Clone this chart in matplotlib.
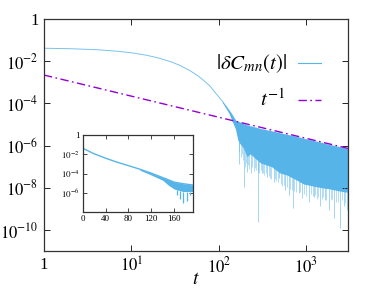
import numpy as np
import matplotlib
matplotlib.use('Agg')
import matplotlib.pyplot as plt

plt.rcParams['font.family'] = ['Liberation Serif', 'DejaVu Serif']
plt.rcParams['mathtext.fontset'] = 'stix'

# ---- data ----
# smooth decay of |dC_mn(t)| (main panel)
t_main = [1, 2, 4, 7, 10, 15, 20, 28, 36, 47, 57, 67, 80, 95, 110, 124, 140, 154]
c_main = [0.041, 0.039, 0.035, 0.0295, 0.025, 0.019, 0.0145, 9.5e-3, 6.3e-3, 3.5e-3,
          2.1e-3, 1.23e-3, 6.3e-4, 2.6e-4, 1.25e-4, 6.0e-5, 3.1e-5, 1.6e-5]

# oscillating tail: upper envelope and solid lower edge
env_t  = [110, 130, 155, 165, 175, 190, 210, 230, 260, 300, 350, 400, 500, 600, 750,
          935, 1200, 1500, 1800, 2400, 3000]
env_hi = [1.25e-4, 5.0e-5, 1.6e-5, 1.4e-5, 1.3e-5, 1.1e-5, 9.5e-6, 8.5e-6, 7.5e-6, 6.4e-6,
          5.6e-6, 5.0e-6, 4.0e-6, 3.4e-6, 2.8e-6, 2.2e-6, 1.75e-6, 1.4e-6, 1.15e-6,
          8.8e-7, 7.0e-7]
env_lo = [1.1e-4, 3.5e-5, 6.0e-6, 1.8e-6, 1.2e-6, 8.0e-7, 3.0e-7, 4.0e-7, 2.5e-7, 1.5e-7,
          1.2e-7, 1.0e-7, 5.0e-8, 4.0e-8, 2.5e-8, 1.5e-8, 1.2e-8, 1.0e-8, 9.0e-9,
          7.0e-9, 6.0e-9]

# deep single spikes
spike_t = [168, 195, 210, 235, 277, 312, 356, 423, 483, 576, 629, 706, 819, 895,
           1065, 1215, 1425, 1655, 1805, 2060, 2415, 2680, 2930]
spike_lo = [1.4e-7, 1.1e-8, 5.8e-8, 4.9e-8, 2.5e-10, 4.9e-8, 3.4e-8, 1.9e-8, 2.8e-8, 7.9e-9,
            4.6e-9, 1.1e-9, 5.5e-9, 3.2e-9, 2.2e-9, 3.8e-9, 1.3e-9, 2.6e-9, 8.9e-10,
            3.6e-10, 1.2e-10, 1.3e-9, 8.9e-10]

# shallower pale spikes
mid_t  = [172, 180, 184, 188, 200, 205, 215, 220, 242, 250, 258, 265, 282, 290, 300,
          320, 330, 345, 370, 380, 400, 440, 450, 470, 510, 530, 560, 600, 650, 680,
          730, 760, 850, 930, 1000, 1120, 1180, 1270, 1320, 1380, 1500, 1550, 1700,
          1900, 1980, 2200, 2300, 2550, 2800, 2980]
mid_lo = [5e-7, 3e-7, 4e-7, 2e-7, 1e-7, 1.5e-7, 1.2e-7, 8e-8, 1e-7, 6e-8, 9e-8, 7e-8,
          6e-8, 5e-8, 7e-8, 5e-8, 4e-8, 5e-8, 3.5e-8, 3e-8, 2.5e-8, 2.5e-8, 2e-8, 1.8e-8,
          1.5e-8, 1.2e-8, 1.4e-8, 1.1e-8, 9e-9, 8e-9, 7e-9, 6e-9, 6e-9, 5e-9, 4e-9,
          5e-9, 4e-9, 4.5e-9, 3e-9, 3.5e-9, 3e-9, 3.5e-9, 2.5e-9, 2.5e-9, 3e-9, 2e-9,
          2.2e-9, 2.5e-9, 1.8e-9, 2e-9]

# reference power law t^-1
ref_t   = [1, 3000]
ref_val = [2.2e-3, 7.3e-7]

# inset (linear t)
ins_t   = [0, 20, 40, 60, 80, 100, 120, 140, 160, 175, 192]
ins_val = [0.042, 0.011, 3.9e-3, 1.5e-3, 6.6e-4, 2.8e-4, 1.1e-4, 3.8e-5, 1.3e-5, 9e-6, 6.6e-6]
ins_band_t  = [100, 120, 140, 150, 160, 175, 192]
ins_band_hi = [2.8e-4, 1.1e-4, 3.8e-5, 2.2e-5, 1.3e-5, 9e-6, 6.6e-6]
ins_band_lo = [2.2e-4, 7.0e-5, 2.0e-5, 6.0e-6, 2.5e-6, 1.4e-6, 1.4e-6]
ins_spike_t  = [165, 170, 176, 182, 188]
ins_spike_lo = [6e-7, 2.5e-7, 8.5e-8, 1.5e-7, 6e-7]

blue = '#56b4e9'
purple = '#9400d3'
dashdot = (6, 2.5, 1.2, 2.5)

fig = plt.figure(figsize=(3.74, 2.90), dpi=100)
ax = fig.add_axes([0.1176, 0.1345, 0.8128, 0.80])

ax.vlines(mid_t, mid_lo, np.interp(mid_t, env_t, env_hi), color=blue, alpha=0.45, lw=0.7)
ax.vlines(spike_t, spike_lo, np.interp(spike_t, env_t, env_hi), color=blue, alpha=0.55, lw=0.7)
ax.fill_between(env_t, env_lo, env_hi, color=blue, lw=0)
ax.plot(t_main, c_main, color=blue, lw=0.7, alpha=0.8)
ax.plot(ref_t, ref_val, color=purple, lw=1.0, dashes=dashdot)

ax.set_xscale('log')
ax.set_yscale('log')
ax.set_xlim(1, 3000)
ax.set_ylim(1e-11, 1)
ax.set_xticks([1, 10, 100, 1000])
ax.set_xticklabels(['1', r'$10^{1}$', r'$10^{2}$', r'$10^{3}$'])
ax.set_yticks([1, 1e-2, 1e-4, 1e-6, 1e-8, 1e-10])
ax.set_yticklabels(['1', r'$10^{-2}$', r'$10^{-4}$', r'$10^{-6}$', r'$10^{-8}$', r'$10^{-10}$'])
ax.minorticks_off()
ax.tick_params(direction='in', top=True, right=True, length=4, width=0.6,
               labelsize=12, pad=4)
ax.set_xlabel(r'$t$', fontsize=14, labelpad=-4)
for s in ax.spines.values():
    s.set_linewidth(0.9)
    s.set_color('#333333')

# key drawn by hand, gnuplot style
ax.text(0.80, 0.809, r'$|\delta C_{mn}(t)|$', transform=ax.transAxes,
        ha='right', va='center', fontsize=15)
ax.plot([0.836, 0.911], [0.809, 0.809], transform=ax.transAxes, color=blue, lw=0.8)
ax.text(0.795, 0.651, r'$t^{-1}$', transform=ax.transAxes,
        ha='right', va='center', fontsize=15)
ax.plot([0.836, 0.911], [0.651, 0.651], transform=ax.transAxes, color=purple, lw=1.0,
        dashes=dashdot)

# inset
ins = fig.add_axes([0.221, 0.268, 0.294, 0.267])
ins.fill_between(ins_band_t, ins_band_lo, ins_band_hi, color=blue, lw=0)
ins.vlines(ins_spike_t, ins_spike_lo, np.interp(ins_spike_t, ins_band_t, ins_band_lo),
           color=blue, lw=0.9)
ins.plot(ins_t, ins_val, color=blue, lw=1.0)
ins.set_yscale('log')
ins.set_xlim(0, 192)
ins.set_ylim(1e-8, 1)
ins.set_xticks([0, 40, 80, 120, 160])
ins.set_yticks([1, 1e-2, 1e-4, 1e-6])
ins.set_yticklabels(['1', r'$10^{-2}$', r'$10^{-4}$', r'$10^{-6}$'])
ins.minorticks_off()
ins.tick_params(direction='in', top=True, right=True, length=3, width=0.5,
                labelsize=6.5, pad=2)
for s in ins.spines.values():
    s.set_linewidth(0.9)
    s.set_color('#333333')

fig.savefig('out.png', dpi=100)
